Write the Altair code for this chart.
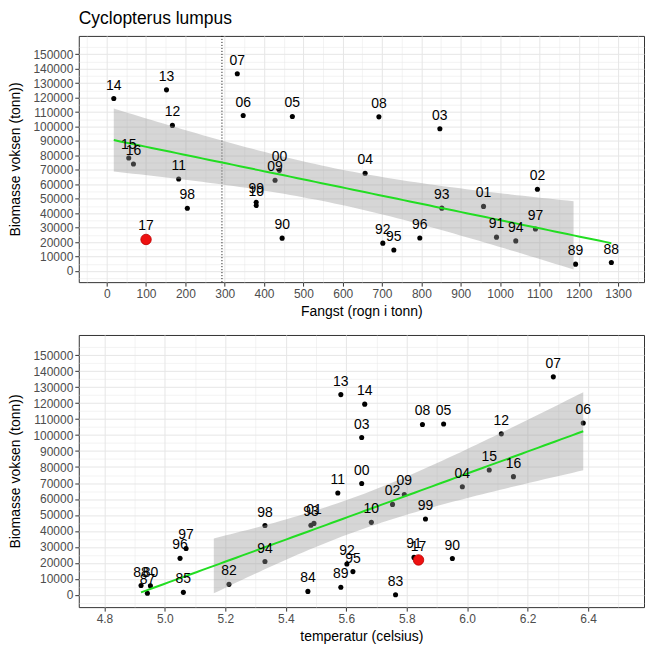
import altair as alt
import numpy as np
import pandas as pd

# ---------------- data ----------------
years = ["80", "82", "83", "84", "85", "87", "88", "89", "90", "91", "92", "93",
         "94", "95", "96", "97", "98", "99", "00", "01", "02", "03", "04", "05",
         "06", "07", "08", "09", "10", "11", "12", "13", "14", "15", "16", "17"]
fangst = [None, None, None, None, None, None,
          1283, 1192, 446, 991, 702, 852, 1040, 730, 796, 1090, 205, 380,
          439, 958, 1095, 847, 657, 472, 347, 332, 692, 428, 380, 183, 167,
          152, 18, 56, 68, 100]
biomasse = [5600, 6500, 0, 2100, 1500, 900,
            5800, 4700, 22700, 23400, 19250, 43500, 20800, 14500, 22800, 29000,
            43400, 47500, 69650, 44700, 56600, 98500, 67700, 107000, 107600,
            136500, 106700, 62850, 45350, 63700, 100800, 125400, 119400,
            78200, 74000, 21800]
temperatur = [4.952, 5.212, 5.763, 5.473, 5.061, 4.942,
              4.921, 5.582, 5.951, 5.824, 5.602, 5.483, 5.331, 5.622, 5.050,
              5.070, 5.331, 5.862, 5.651, 5.493, 5.753, 5.651, 5.984, 5.922,
              6.384, 6.285, 5.852, 5.792, 5.683, 5.572, 6.113, 5.582, 5.661,
              6.073, 6.153, 5.839]
highlight_year = "17"
vline_fangst = [293]

y_breaks = [-5000] + list(range(0, 155001, 5000))
x1_breaks = list(range(-50, 1351, 50))
x2_breaks = [round(4.8 + 0.1 * i, 1) for i in range(0, 18)]

Y_LIM = [0, 155000]
Y_DOMAIN = [-7750, 162750]
X1_DOMAIN = [-71, 1366]
X2_DOMAIN = [4.715, 6.585]

FONT = "Liberation Sans"


def t975(df):
    z = 1.959964
    return z + (z**3 + z) / (4 * df) + (5 * z**5 + 16 * z**3 + 3 * z) / (96 * df**2)


def fit_band(x, y, n=80):
    x = np.asarray(x, float)
    y = np.asarray(y, float)
    N = len(x)
    b, a = np.polyfit(x, y, 1)
    xs = np.linspace(x.min(), x.max(), n)
    yhat = a + b * xs
    resid = y - (a + b * x)
    s = np.sqrt((resid ** 2).sum() / (N - 2))
    sxx = ((x - x.mean()) ** 2).sum()
    se = s * np.sqrt(1.0 / N + (xs - x.mean()) ** 2 / sxx)
    t = t975(N - 2)
    return pd.DataFrame({"x": xs, "y": yhat, "lo": yhat - t * se, "hi": yhat + t * se})


df_all = pd.DataFrame({"label": years, "fangst": fangst, "y": biomasse, "temp": temperatur})

top_pts = df_all.dropna(subset=["fangst"]).rename(columns={"fangst": "x"})[["x", "y", "label"]]
top_pts["x"] = top_pts["x"].astype(float)
bot_pts = df_all.rename(columns={"temp": "x"})[["x", "y", "label"]]

top_band = fit_band(top_pts["x"], top_pts["y"])
bot_band = fit_band(bot_pts["x"], bot_pts["y"])


def ok_band(b):
    return b[(b["lo"] >= Y_LIM[0]) & (b["hi"] <= Y_LIM[1])]


def cond(test, a, b):
    return {"condition": {"test": test, "value": a}, "value": b}


def make_axis(values, test, fmt, title, title_pad):
    return alt.Axis(
        values=values, format=fmt, title=title,
        labelExpr=f"({test}) ? datum.label : ''",
        gridColor="#E6E6E6",
        gridWidth=cond(test, 1.0, 0.5),
        tickColor=cond(test, "#333333", "transparent"),
        tickSize=4, labelPadding=2, domain=False,
        labelFont=FONT, labelFontSize=12, labelColor="#4D4D4D",
        titleFont=FONT, titleFontSize=14, titleFontWeight="normal", titleColor="black",
        labelOverlap=False, labelFlush=False, labelBound=False,
        titlePadding=title_pad,
    )


def panel(pts, band, xdomain, xvals, xtest, xfmt, xtitle, height, vline=None, title=None):
    X = alt.X("x:Q", scale=alt.Scale(domain=xdomain, nice=False, zero=False),
              axis=make_axis(xvals, xtest, xfmt, xtitle, 5))
    yaxis = make_axis(y_breaks, "datum.value % 10000 === 0", "d",
                      "Biomasse voksen (tonn))", 10)
    yscale = alt.Scale(domain=Y_DOMAIN, nice=False, zero=False)
    Y = alt.Y("y:Q", scale=yscale, axis=yaxis)
    base = alt.Chart(pts)
    layers = [
        base.mark_circle(size=26, color="black", opacity=1).encode(x=X, y=Y),
    ]
    if vline is not None:
        layers.append(alt.Chart(pd.DataFrame({"x": vline})).mark_rule(
            color="black", strokeDash=[1, 2], strokeWidth=1).encode(x=X))
    layers.append(alt.Chart(ok_band(band)).mark_area(color="#999999", opacity=0.4).encode(
        x=X, y=alt.Y("lo:Q", scale=yscale, axis=yaxis), y2="hi:Q"))
    layers.append(alt.Chart(band).mark_line(color="#22dd22", strokeWidth=2).encode(x=X, y=Y))
    layers.append(base.transform_filter(f"datum.label === '{highlight_year}'")
                  .mark_circle(size=110, color="#ee1111", opacity=1, stroke="#bb0000", strokeWidth=0.8)
                  .encode(x=X, y=Y))
    layers.append(base.mark_text(dy=-13, fontSize=14, font=FONT, color="black")
                  .encode(x=X, y=Y, text="label:N"))
    ch = alt.layer(*layers).properties(width=567, height=height)
    if title is not None:
        ch = ch.properties(title=alt.TitleParams(title, anchor="start", frame="group",
                                                 fontSize=17.5, font=FONT,
                                                 fontWeight="normal", color="black",
                                                 offset=8))
    return ch


top = panel(top_pts, top_band, X1_DOMAIN, x1_breaks, "datum.value % 100 === 0", "d",
            "Fangst (rogn i tonn)", 247, vline=vline_fangst, title="Cyclopterus lumpus")
bot = panel(bot_pts, bot_band, X2_DOMAIN, x2_breaks,
            "abs(round(datum.value * 10)) % 2 === 0", ".1f",
            "temperatur (celsius)", 273)

chart = alt.vconcat(top, bot, spacing=15).properties(
    padding={"left": 0, "top": 0, "right": 0, "bottom": 0}
).configure_view(stroke="#333333", strokeWidth=1)

chart.save("out.html", embed_options={"renderer": "svg", "actions": False})
